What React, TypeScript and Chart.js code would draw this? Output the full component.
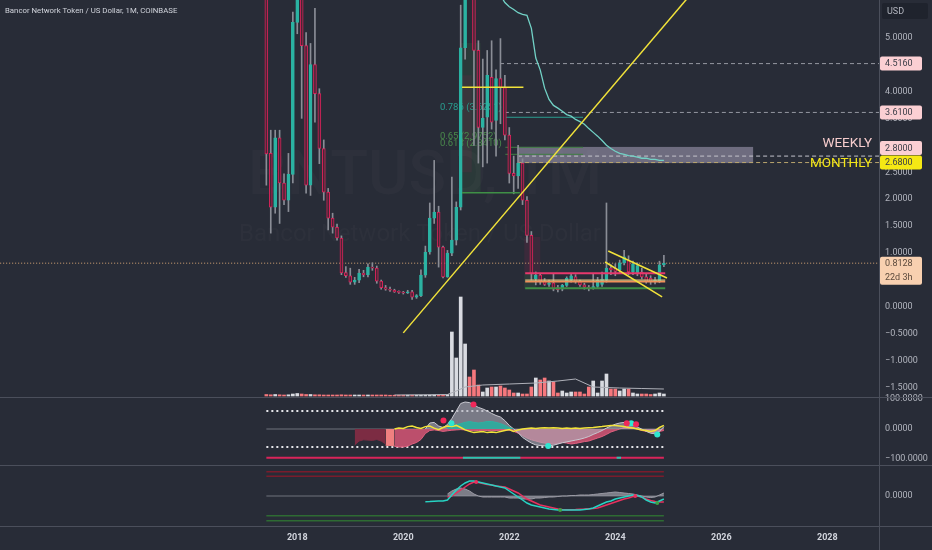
import { useEffect, useRef } from 'react';
import Chart from 'chart.js/auto';

// ---------- text ----------
const TITLE = 'Bancor Network Token / US Dollar, 1M, COINBASE';
const WATERMARK = 'BNTUSD, 1M';
const WATERMARK_SUB = 'Bancor Network Token / US Dollar';
const FIRST_MONTH = '2017-06';
const YEAR_TICKS = [2018, 2020, 2022, 2024, 2026, 2028];

// ---------- monthly candles (Jun 2017 .. Dec 2024) ----------
const opens = [6.2, 2.85, 1.85, 3.14, 2.30, 1.98, 2.46, 5.28, 7.2, 4.85,
  2.26, 4.50, 3.96, 2.94, 2.13, 1.65, 1.48, 1.28, 0.64, 0.58,
  0.46, 0.50, 0.63, 0.60, 0.74, 0.72, 0.48, 0.36, 0.33, 0.31,
  0.28, 0.27, 0.26, 0.28, 0.18, 0.21, 0.59, 1.02, 1.65, 1.76,
  1.11, 0.56, 1.00, 1.24, 1.85, 4.81, 8.5, 7.0, 4.76, 3.33,
  3.52, 4.26, 3.46, 4.24, 4.07, 3.19, 2.48, 2.43, 2.67, 1.98,
  1.33, 0.52, 0.59, 0.48, 0.42, 0.45, 0.36, 0.33, 0.40, 0.50,
  0.56, 0.47, 0.41, 0.37, 0.35, 0.38, 0.42, 0.50, 0.72, 0.72,
  0.69, 0.82, 0.86, 0.65, 0.62, 0.65, 0.56, 0.53, 0.47, 0.47, 0.78];
const highs = [6.6, 3.28, 3.28, 3.28, 2.47, 2.85, 5.47, 8.5, 7.6, 5.09,
  4.89, 5.54, 4.05, 3.10, 2.20, 1.74, 1.54, 1.32, 0.75, 0.72,
  0.55, 0.70, 0.68, 0.80, 0.82, 0.76, 0.50, 0.40, 0.37, 0.33,
  0.30, 0.29, 0.31, 0.31, 0.23, 0.69, 1.13, 1.93, 2.72, 1.87,
  1.13, 1.05, 2.41, 1.95, 5.6, 9.5, 10.5, 9.0, 4.94, 4.60,
  4.76, 4.94, 4.40, 4.98, 4.30, 3.33, 2.80, 3.00, 2.75, 2.05,
  1.40, 0.65, 0.62, 0.53, 0.50, 0.62, 0.40, 0.42, 0.56, 0.62,
  0.60, 0.50, 0.44, 0.40, 0.62, 0.55, 0.65, 1.93, 0.78, 0.80,
  0.87, 1.05, 0.95, 0.85, 0.82, 0.72, 0.62, 0.58, 0.55, 0.85, 0.96];
const lows = [2.26, 1.37, 1.74, 1.55, 1.90, 1.77, 2.30, 5.07, 3.50, 2.11,
  2.07, 3.43, 2.66, 1.98, 1.43, 1.37, 1.24, 0.60, 0.55, 0.42,
  0.42, 0.45, 0.56, 0.56, 0.68, 0.44, 0.33, 0.31, 0.29, 0.27,
  0.25, 0.24, 0.25, 0.14, 0.16, 0.19, 0.55, 0.98, 1.55, 0.74,
  0.54, 0.55, 0.95, 1.15, 1.80, 4.6, 6.0, 3.0, 2.67, 2.60,
  2.67, 3.30, 2.80, 3.40, 3.10, 2.30, 2.10, 2.20, 1.90, 1.20,
  0.50, 0.41, 0.42, 0.40, 0.38, 0.30, 0.28, 0.30, 0.38, 0.46,
  0.44, 0.38, 0.33, 0.30, 0.33, 0.36, 0.38, 0.46, 0.60, 0.58,
  0.62, 0.78, 0.60, 0.60, 0.58, 0.52, 0.44, 0.42, 0.43, 0.45, 0.75];
const closes = [2.84, 1.85, 3.14, 2.30, 1.98, 2.46, 5.28, 7.2, 4.85, 2.26,
  4.50, 3.96, 2.94, 2.13, 1.65, 1.48, 1.28, 0.63, 0.58, 0.46,
  0.50, 0.63, 0.60, 0.74, 0.72, 0.48, 0.36, 0.33, 0.31, 0.28,
  0.27, 0.26, 0.28, 0.18, 0.21, 0.59, 1.02, 1.65, 1.76, 1.11,
  0.56, 1.00, 1.24, 1.85, 4.81, 7.5, 7.0, 4.76, 3.33, 3.50,
  4.30, 3.43, 4.24, 4.07, 3.19, 2.48, 2.43, 2.67, 1.98, 1.33,
  0.62, 0.59, 0.48, 0.42, 0.45, 0.33, 0.32, 0.40, 0.53, 0.58,
  0.47, 0.41, 0.37, 0.34, 0.38, 0.50, 0.52, 0.72, 0.69, 0.66,
  0.82, 0.93, 0.65, 0.80, 0.77, 0.56, 0.47, 0.47, 0.50, 0.78, 0.8128];
// volume, millions of BNT
const volumes = [0.15, 0.12, 0.15, 0.12, 0.1, 0.12, 0.2, 0.25, 0.2, 0.15,
  0.15, 0.12, 0.12, 0.1, 0.1, 0.1, 0.1, 0.12, 0.1, 0.1,
  0.1, 0.1, 0.1, 0.1, 0.1, 0.1, 0.1, 0.1, 0.08, 0.08,
  0.08, 0.08, 0.08, 0.08, 0.08, 0.08, 0.08, 0.08, 0.1, 0.1,
  0.1, 0.15, 6.4, 3.8, 9.9, 5.2, 1.9, 2.6, 1.1, 0.4,
  0.8, 0.9, 0.9, 1.0, 0.8, 0.6, 0.3, 0.3, 0.2, 0.2,
  0.9, 1.8, 1.6, 1.8, 1.5, 1.4, 0.3, 0.5, 0.3, 0.4,
  0.4, 0.4, 0.2, 0.9, 1.5, 0.3, 1.5, 2.2, 0.7, 0.7,
  0.5, 0.7, 0.7, 0.3, 0.2, 0.2, 0.2, 0.15, 0.2, 0.3, 0.2];
const volMaBars = [29, 41, 43, 45, 49, 55, 61, 66, 70, 74, 80, 85, 90];
const volMaValues = [0.1, 0.15, 0.5, 0.9, 1.1, 1.2, 1.3, 1.5, 1.7, 0.9, 0.8, 0.75, 0.7];

// moving average on price (starts at bar 52)
const MA_START = 52;
const priceMa = [5.95, 5.78, 5.65, 5.57, 5.52, 5.46, 5.43, 5.41, 5.17, 4.62,
  4.40, 4.06, 3.85, 3.74, 3.69, 3.63, 3.57, 3.54, 3.48, 3.44,
  3.39, 3.31, 3.24, 3.17, 3.09, 3.00, 2.94, 2.89, 2.85, 2.83,
  2.81, 2.80, 2.78, 2.76, 2.76, 2.74, 2.74, 2.72, 2.72];

// ---------- drawings on the price pane (bar index, price) ----------
const trendLine = { x0: 31, y0: -0.48, x1: 100, y1: 6.18 };
const channelUpper = { x0: 77.4, y0: 1.039, x1: 90.7, y1: 0.538 };
const channelLower = { x0: 76.7, y0: 0.835, x1: 89.6, y1: 0.186 };
const RANGE_FROM = 58.6, RANGE_TO = 90.3;
const rangeHigh = 0.625, rangeMid = 0.50, rangeLow = 0.469, rangeFloor = 0.347;
const fibHalf = { value: 4.076, from: 44.3, to: 58.2 };
const fibBase = { value: 2.12, from: 44.3, to: 57.4 };
const fib786 = { value: 3.52, from: 54.1, to: 71.7 };
const fib650 = { value: 2.963, from: 54.1, to: 71.7 };
const fib618 = { value: 2.833, from: 54.1, to: 71.7 };
const fibLabels = [
  { text: '0.786 (3.6251)', bar: 39.3, price: 3.69, kind: 'teal' },
  { text: '0.65 (2.9752)', bar: 39.3, price: 3.17, kind: 'green' },
  { text: '0.618 (2.8410)', bar: 39.3, price: 3.04, kind: 'green' },
];
const dashedLevels = [
  { value: 4.516, from: 52.9, kind: 'grey' },
  { value: 3.61, from: 54.0, kind: 'grey' },
  { value: 2.80, from: 57.0, kind: 'light' },
  { value: 2.68, from: 57.0, kind: 'tan' },
];
const zoneBox = { fromBar: 56.8, toBar: 110.2, top: 2.97, bottom: 2.67 };
const LAST_PRICE = 0.8128;
const COUNTDOWN = '22d 3h';
const priceBadges = [
  { value: 4.516, text: '4.5160', kind: 'pink', shift: 0 },
  { value: 3.61, text: '3.6100', kind: 'pink', shift: 0 },
  { value: 2.80, text: '2.8000', kind: 'pink', shift: -8 },
  { value: 2.68, text: '2.6800', kind: 'yellow', shift: 0 },
];
const zoneLabels = [
  { text: 'WEEKLY', price: 3.04, kind: 'weekly' },
  { text: 'MONTHLY', price: 2.66, kind: 'monthly' },
];
const PRICE_TICKS = [-1.5, -1, -0.5, 0, 0.5, 1, 1.5, 2, 2.5, 3, 3.5, 4, 4.5, 5];

// ---------- oscillator pane ----------
const OSC_TICKS = [100, 0, -100];
const OSC_BANDS = [60, -60];
const OSC_SIGNAL_LINE = -96;
const MAROON_START = 20;
const oscMaroon = [-53, -40, -36, -37, -38, -35, -40, -50];
const SALMON_START = 27;
const oscSalmon = [-54, -55, -56];
const PINK_START = 29;
const oscPink = [-58, -60, -60, -57, -50, -45, -35, -15, -5, -3,
  -5, -8, -6, -4, -3, -2, -3, -5, -6, -5,
  -4, -5, -6, -5, -4, -3, -4, -8, -14, -22,
  -30, -36, -40, -44, -47, -50, -50, -48, -45, -47,
  -50, -48, -45, -42, -40, -35, -30, -25, -18, -10,
  -5, 0, 5, 8, 5, 0, -5, -8, -10, -12, -8, -5];
const GREY_START = 36;
const oscGrey = [0, 20, 22, 10, 5, 15, 35, 60, 85, 90,
  88, 80, 72, 67, 60, 52, 45, 40, 28, 12,
  0, -12, -28, -38, -47, -53, -55, -56, -56, -54,
  -50, -46, -43, -40, -37, -34, -30, -25, -18, -12,
  -5, 3, 10, 16, 20, 22, 20, 14, 6, 0,
  -8, -14, -16, -8, 8];
const TEAL_START = 41;
const oscTeal = [5, 12, 15, 18, 22, 25, 22, 20, 22, 25, 25, 22, 18, 12, 5, 0];
const YELLOW_START = 29;
const oscYellow = [0, 3, 2, 8, 10, 5, 2, 8, 10, 3,
  -2, 5, 10, 8, 12, 5, -3, -8, -12, -10,
  -8, -12, -10, -12, -8, -5, -2, -8, -3, 0,
  2, 3, 2, 3, 4, 3, 4, 3, 2, 3,
  2, 3, 2, 3, 4, 5, 7, 8, 10, 12,
  12, 10, 8, 5, 3, 0, -3, -5, -8, -5, 5, 12];
const redDotBars = [40.1, 46.9, 81.6, 83.7];
const redDotValues = [28, 82, 19, 16];
const tealDotBars = [41.9, 63.8, 82.6, 88.5];
const tealDotValues = [19, -57, 19, -18];
const signalTealRanges = [[44.5, 57.5], [79.3, 80.3]];

// ---------- momentum pane ----------
const MOM_LEVELS_UP = [0.243, 0.197];
const MOM_LEVELS_DOWN = [-0.197, -0.247];
const MOM_FAST_START = 36;
const momFast = [-0.057, -0.055, -0.052, -0.05, -0.05, -0.04, 0.01, 0.06, 0.10, 0.13,
  0.15, 0.15, 0.14, 0.13, 0.12, 0.11, 0.10, 0.09, 0.08, 0.05,
  0.02, -0.01, -0.04, -0.07, -0.09, -0.10, -0.11, -0.12, -0.13, -0.135,
  -0.14, -0.14, -0.14, -0.14, -0.14, -0.14, -0.135, -0.13, -0.12, -0.10,
  -0.08, -0.06, -0.05, -0.03, -0.02, -0.01, 0.0, 0.01, 0.005, -0.01,
  -0.04, -0.06, -0.07, -0.05, -0.03];
const MOM_SLOW_START = 41;
const momSlow = [-0.01, 0.00, 0.03, 0.06, 0.09, 0.12, 0.14, 0.135, 0.125, 0.115,
  0.11, 0.10, 0.095, 0.09, 0.07, 0.05, 0.03, 0.00, -0.03, -0.05,
  -0.07, -0.09, -0.10, -0.11, -0.12, -0.13, -0.135, -0.137, -0.137, -0.135,
  -0.132, -0.13, -0.127, -0.124, -0.12, -0.105, -0.09, -0.075, -0.06, -0.045,
  -0.03, -0.02, -0.005, 0.0, -0.01, -0.03, -0.045, -0.055, -0.06, -0.06];
const MOM_HIST_START = 41;
const momHist = [0.02, 0.05, 0.07, 0.08, 0.07, 0.05, 0.02, 0.0, -0.01, -0.01,
  -0.01, -0.01, -0.01, -0.01, -0.02, -0.02, -0.02, -0.03, -0.03, -0.03,
  -0.02, -0.02, -0.015, -0.01, -0.01, -0.005, 0, 0, 0.005, 0.005,
  0.01, 0.01, 0.01, 0.015, 0.02, 0.025, 0.03, 0.035, 0.04, 0.035,
  0.03, 0.025, 0.02, 0.01, 0.0, -0.01, -0.015, -0.01, 0.01, 0.03];
const momCrossBars = [47.5, 66.5, 83.5, 88.5];
const momCrossValues = [0.14, -0.14, 0.0, -0.07];
const momCrossKinds = ['red', 'green', 'red', 'green'];

// ---------- look ----------
const BG = '#282c37';
const SEP = '#4b4f5b';
const AXIS_TEXT = '#b2b5be';
const UP = '#2bb3a3';
const DOWN = '#d8245a';
const DOWN_FILL = '#4a2536';
const WICK = '#8a8d96';
const YELLOW = '#f2e33a';
const AXIS_W = 53;
const X_MIN = -60.3;
const X_MAX = 138.7;

const firstYear = Number(FIRST_MONTH.split('-')[0]);
const firstMonth = Number(FIRST_MONTH.split('-')[1]);
const barOfYear = (y: number) => (y - firstYear) * 12 + (1 - firstMonth);
const yearAtBar: Record<number, string> = {};
YEAR_TICKS.forEach((y) => { yearAtBar[barOfYear(y)] = String(y); });

const fmt4 = (v: number) => (v < 0 ? '\u2212' : '') + Math.abs(v).toFixed(4);
const seq = (start: number, vals: number[]) => vals.map((v, i) => ({ x: start + i, y: v }));
const seg = (s: any) => [{ x: s.x0, y: s.y0 }, { x: s.x1, y: s.y1 }];
const hl = (v: number, a: number, b: number) => [{ x: a, y: v }, { x: b, y: v }];

function line(data: any[], color: string, yAxisID: string, order: number, extra: any = {}) {
  return {
    type: 'line', data, borderColor: color, backgroundColor: color, borderWidth: 1,
    pointRadius: 0, fill: false, tension: 0, yAxisID, xAxisID: 'x', order, ...extra,
  };
}

function yAxis(weight: number, min: number, max: number, ticks: number[]) {
  return {
    type: 'linear', position: 'right', stack: 'panes', stackWeight: weight, min, max,
    grid: { display: false, drawTicks: false },
    border: { display: true, color: SEP },
    ticks: { color: AXIS_TEXT, font: { size: 9 }, padding: 6, autoSkip: false, callback: (v: number) => fmt4(v) },
    afterBuildTicks: (s: any) => { s.ticks = ticks.map((v) => ({ value: v })); },
    afterFit: (s: any) => { s.width = AXIS_W; s.paddingTop = 0; s.paddingBottom = 0; },
  };
}

function badge(ctx: any, x: number, top: number, w: number, h: number, bg: string) {
  ctx.fillStyle = bg;
  ctx.beginPath();
  ctx.roundRect(x, top, w, h, 2);
  ctx.fill();
}

const overlay = {
  id: 'overlay',
  beforeDraw(chart: any) {
    const { ctx, width, height } = chart;
    ctx.save();
    ctx.fillStyle = BG;
    ctx.fillRect(0, 0, width, height);
    ctx.restore();
  },
  beforeDatasetsDraw(chart: any) {
    const { ctx, chartArea } = chart;
    const { x, yP } = chart.scales;
    ctx.save();
    ctx.beginPath();
    ctx.rect(chartArea.left, yP.top, chartArea.right - chartArea.left, yP.bottom - yP.top);
    ctx.clip();
    // watermark
    ctx.fillStyle = 'rgba(255,255,255,0.025)';
    ctx.textAlign = 'center';
    ctx.textBaseline = 'middle';
    ctx.font = '500 62px Roboto';
    ctx.fillText(WATERMARK, 425, 178);
    ctx.font = '24px Roboto';
    ctx.fillText(WATERMARK_SUB, 420, 235);
    // volume profile shading
    const rect = (b0: number, b1: number, p0: number, p1: number, c: string) => {
      const x0 = x.getPixelForValue(b0), x1 = x.getPixelForValue(b1);
      const y0 = yP.getPixelForValue(p0), y1 = yP.getPixelForValue(p1);
      ctx.fillStyle = c;
      ctx.fillRect(x0, y0, x1 - x0, y1 - y0);
    };
    rect(44, 48.5, 4.9, 2.12, 'rgba(76,175,80,0.10)');
    rect(44, 46.5, 4.3, 2.5, 'rgba(233,30,99,0.08)');
    rect(58.4, 62, 1.3, 0.62, 'rgba(233,30,99,0.10)');
    rect(58.4, 61, 0.62, 0.34, 'rgba(76,175,80,0.12)');
    // grey zone box
    rect(zoneBox.fromBar, zoneBox.toBar, zoneBox.top, zoneBox.bottom, 'rgba(180,172,200,0.5)');
    // fib labels
    ctx.font = '9.5px Roboto';
    ctx.textAlign = 'left';
    fibLabels.forEach((f) => {
      ctx.fillStyle = f.kind === 'teal' ? '#2a9d8f' : '#4a8a4c';
      ctx.fillText(f.text, x.getPixelForValue(f.bar), yP.getPixelForValue(f.price));
    });
    ctx.restore();
  },
  afterDraw(chart: any) {
    const { ctx, chartArea, width, height } = chart;
    const { yP, yO, yM } = chart.scales;
    ctx.save();
    // separators
    ctx.strokeStyle = SEP;
    ctx.lineWidth = 1;
    [yP.bottom, yO.bottom, yM.bottom].forEach((yy: number) => {
      const y = Math.round(yy) + 0.5;
      ctx.beginPath(); ctx.moveTo(0, y); ctx.lineTo(width, y); ctx.stroke();
    });
    const vx = Math.round(chartArea.right) + 0.5;
    ctx.beginPath(); ctx.moveTo(vx, 0); ctx.lineTo(vx, height); ctx.stroke();

    // zone labels
    ctx.font = '13.5px Roboto';
    ctx.textAlign = 'right';
    ctx.textBaseline = 'middle';
    zoneLabels.forEach((z) => {
      ctx.fillStyle = z.kind === 'weekly' ? '#f6cccc' : '#f3e617';
      ctx.fillText(z.text, chartArea.right - 7, yP.getPixelForValue(z.price));
    });

    // price badges
    const bx = chartArea.right + 1;
    ctx.font = '9px Roboto';
    ctx.textAlign = 'left';
    priceBadges.forEach((b) => {
      const yc = yP.getPixelForValue(b.value) + b.shift;
      badge(ctx, bx, yc - 7, 42, 14, b.kind === 'yellow' ? '#f5e814' : '#fbcfd3');
      ctx.fillStyle = '#3a3d47';
      ctx.fillText(b.text, bx + 5, yc + 0.5);
    });
    const ly = yP.getPixelForValue(LAST_PRICE);
    badge(ctx, bx, ly - 6.5, 42, 28, '#f8d0b0');
    ctx.fillStyle = '#5c4a3c';
    ctx.fillText(fmt4(LAST_PRICE), bx + 5, ly + 0.5);
    ctx.fillText(COUNTDOWN, bx + 5, ly + 14.5);

    // currency box
    badge(ctx, chartArea.right + 3, 3, 46, 16, '#1f232d');
    ctx.fillStyle = AXIS_TEXT;
    ctx.fillText('USD', chartArea.right + 8, 11.5);

    // title
    ctx.font = '7.8px Roboto';
    ctx.fillStyle = '#d1d4dc';
    ctx.fillText(TITLE, 5, 11.5);
    ctx.restore();
  },
};

export default function App() {
  const canvasRef = useRef<HTMLCanvasElement | null>(null);

  useEffect(() => {
    document.body.style.margin = '0';
    document.body.style.background = BG;
    const canvas = canvasRef.current;
    if (!canvas) return;
    Chart.defaults.font.family = 'Roboto, "Liberation Sans", sans-serif';

    const bars = opens.map((_, i) => i);
    const up = bars.map((i) => closes[i] >= opens[i]);
    const lastBar = bars.length - 1;

    const datasets: any[] = [
      // ---- price pane ----
      line(seg(trendLine), YELLOW, 'yP', 0, { borderWidth: 1.5 }),
      line(seg(channelUpper), YELLOW, 'yP', 0, { borderWidth: 1.5 }),
      line(seg(channelLower), YELLOW, 'yP', 0, { borderWidth: 1.5 }),
      line(hl(rangeHigh, RANGE_FROM, RANGE_TO), '#e8386d', 'yP', 1, { borderWidth: 2 }),
      line(hl(rangeMid, RANGE_FROM, RANGE_TO), '#e3c27f', 'yP', 1, { borderWidth: 1.2 }),
      line(hl(rangeLow, RANGE_FROM, RANGE_TO), '#f0905a', 'yP', 1, { borderWidth: 1.5 }),
      line(hl(rangeFloor, RANGE_FROM, RANGE_TO), '#3f8f46', 'yP', 1, { borderWidth: 2 }),
      line(hl(fibHalf.value, fibHalf.from, fibHalf.to), YELLOW, 'yP', 1, { borderWidth: 1.5 }),
      line(hl(fibBase.value, fibBase.from, fibBase.to), '#3f8f46', 'yP', 1, { borderWidth: 1.5 }),
      line(hl(fib786.value, fib786.from, fib786.to), '#2a9d8f', 'yP', 5),
      line(hl(fib650.value, fib650.from, fib650.to), '#3f7f43', 'yP', 5),
      line(hl(fib618.value, fib618.from, fib618.to), '#3f7f43', 'yP', 5),
      ...dashedLevels.map((d) => line(hl(d.value, d.from, X_MAX + 2),
        d.kind === 'tan' ? '#b9a56e' : d.kind === 'light' ? '#c4c4cc' : '#9598a1', 'yP', 5,
        { borderDash: [4, 3] })),
      line(hl(LAST_PRICE, X_MIN - 2, X_MAX + 2), '#d9a877', 'yP', 5, { borderDash: [1, 2] }),
      line(seq(MA_START, priceMa), '#72d2c6', 'yP', 2, { borderWidth: 1.3 }),
      {
        type: 'bar', data: bars.map((i) => ({ x: i, y: [opens[i], closes[i]] })),
        backgroundColor: bars.map((i) => (up[i] ? UP : DOWN_FILL)),
        borderColor: bars.map((i) => (up[i] ? UP : DOWN)),
        borderWidth: 1, borderSkipped: false, barThickness: 3, grouped: false, minBarLength: 1,
        yAxisID: 'yP', xAxisID: 'x', order: 3,
      },
      {
        type: 'bar', data: bars.map((i) => ({ x: i, y: [lows[i], highs[i]] })),
        backgroundColor: WICK, barThickness: 1, grouped: false,
        yAxisID: 'yP', xAxisID: 'x', order: 4,
      },
      line(volMaBars.map((b, i) => ({ x: b, y: volMaValues[i] })), '#aeb0b8', 'yV', 6),
      {
        type: 'bar', data: bars.map((i) => ({ x: i, y: volumes[i] })),
        backgroundColor: bars.map((i) => (up[i] ? '#d9dbe1' : '#f6787d')),
        barThickness: 3, grouped: false, yAxisID: 'yV', xAxisID: 'x', order: 7,
      },

      // ---- oscillator pane ----
      ...OSC_BANDS.map((v) => line(hl(v, 0, lastBar), '#e6e6ea', 'yO', 5, { borderDash: [2, 3], borderWidth: 2 })),
      line(hl(0, 0, lastBar), '#6f727c', 'yO', 5),
      line(seq(MAROON_START, oscMaroon), '#7c2c43', 'yO', 4, { fill: 'origin', backgroundColor: '#7c2c43' }),
      line(seq(SALMON_START, oscSalmon), '#f08080', 'yO', 4, { fill: 'origin', backgroundColor: '#f08080' }),
      line(seq(PINK_START, oscPink), '#e0607f', 'yO', 4, { fill: 'origin', backgroundColor: 'rgba(214,86,118,0.85)' }),
      line(seq(GREY_START, oscGrey), '#c8c8d0', 'yO', 3, { fill: 'origin', backgroundColor: 'rgba(175,175,186,0.6)' }),
      line(seq(TEAL_START, oscTeal), UP, 'yO', 2, { fill: 'origin', backgroundColor: 'rgba(38,176,160,0.85)' }),
      line(seq(YELLOW_START, oscYellow), YELLOW, 'yO', 1, { borderWidth: 1.5 }),
      line(redDotBars.map((b, i) => ({ x: b, y: redDotValues[i] })), '#f0285a', 'yO', 0,
        { showLine: false, pointRadius: 3, pointBackgroundColor: '#f0285a', pointBorderWidth: 0 }),
      line(tealDotBars.map((b, i) => ({ x: b, y: tealDotValues[i] })), '#2ee6d0', 'yO', 0,
        { showLine: false, pointRadius: 3, pointBackgroundColor: '#2ee6d0', pointBorderWidth: 0 }),
      line(hl(OSC_SIGNAL_LINE, 0, lastBar), '#d8245a', 'yO', 5, { borderWidth: 2 }),
      line(signalTealRanges.flatMap((r) => [{ x: r[0], y: OSC_SIGNAL_LINE }, { x: r[1], y: OSC_SIGNAL_LINE }, { x: r[1] + 0.01, y: null }]),
        '#26c6b0', 'yO', 4, { borderWidth: 2, spanGaps: false }),

      // ---- momentum pane ----
      ...MOM_LEVELS_UP.map((v) => line(hl(v, 0, lastBar), '#7a1c2c', 'yM', 5, { borderWidth: 1.5 })),
      ...MOM_LEVELS_DOWN.map((v) => line(hl(v, 0, lastBar), '#2e6b33', 'yM', 5, { borderWidth: 1.5 })),
      line(hl(0, 0, lastBar), '#6f727c', 'yM', 5),
      line(seq(MOM_HIST_START, momHist), '#9a9aa4', 'yM', 3, { fill: 'origin', backgroundColor: 'rgba(160,160,170,0.7)' }),
      line(seq(MOM_SLOW_START, momSlow), '#e8305e', 'yM', 2, { borderWidth: 1.5 }),
      line(seq(MOM_FAST_START, momFast), '#27d3c3', 'yM', 1, { borderWidth: 1.5 }),
      line(momCrossBars.map((b, i) => ({ x: b, y: momCrossValues[i] })), '#e8305e', 'yM', 0, {
        showLine: false, pointRadius: 2, pointBorderWidth: 0,
        pointBackgroundColor: momCrossKinds.map((k) => (k === 'red' ? '#e8305e' : '#3f9f46')),
      }),
    ];

    const chart = new Chart(canvas, {
      type: 'bar',
      data: { datasets },
      plugins: [overlay],
      options: {
        animation: false,
        responsive: false,
        maintainAspectRatio: false,
        events: [],
        layout: { padding: 0, autoPadding: false },
        plugins: { legend: { display: false }, tooltip: { enabled: false } },
        scales: {
          x: {
            type: 'linear', position: 'bottom', min: X_MIN, max: X_MAX, offset: false,
            grid: { display: false, drawTicks: false },
            border: { display: false },
            ticks: {
              color: '#d1d4dc', font: { size: 9, weight: 'bold' }, padding: 6, autoSkip: false, maxRotation: 0,
              callback: (v: number) => yearAtBar[v] ?? '',
            },
            afterBuildTicks: (s: any) => { s.ticks = YEAR_TICKS.map((y) => ({ value: barOfYear(y) })); },
            afterFit: (s: any) => { s.height = 24; s.paddingLeft = 0; s.paddingRight = 0; },
          },
          yP: yAxis(397, -1.670, 5.696, PRICE_TICKS),
          yO: yAxis(68, -120, 106.7, OSC_TICKS),
          yM: yAxis(61, -0.30, 0.31, [0]),
          yV: { type: 'linear', position: 'right', display: false, min: -13.0, max: 39.6 },
        },
      } as any,
    } as any);

    return () => chart.destroy();
  }, []);

  return <canvas ref={canvasRef} width={932} height={550} style={{ display: 'block', width: 932, height: 550 }} />;
}
